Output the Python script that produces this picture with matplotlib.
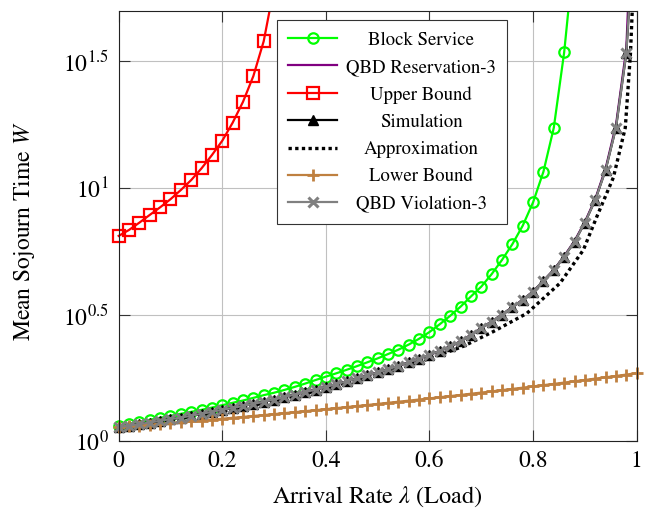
import numpy as np
import matplotlib
matplotlib.use('Agg')
import matplotlib.pyplot as plt
import matplotlib.transforms as mtransforms
from matplotlib.ticker import NullLocator

plt.rcParams['font.family'] = 'STIXGeneral'
plt.rcParams['mathtext.fontset'] = 'stix'

# ---------------------------------------------------------------------------
# Mean sojourn time W vs. arrival rate (load)
# ---------------------------------------------------------------------------
lam_full = np.linspace(0.0, 1.0, 51)          # 0, 0.02, ..., 1.0
lam_block = np.linspace(0.0, 0.88, 45)
lam_upper = np.linspace(0.0, 0.30, 16)

block_service = [1.151, 1.172, 1.194, 1.216, 1.238, 1.261, 1.284, 1.307, 1.331,
                 1.359, 1.389, 1.419, 1.449, 1.484, 1.521, 1.555, 1.595, 1.640,
                 1.690, 1.745, 1.800, 1.855, 1.915, 1.980, 2.050, 2.125, 2.210,
                 2.300, 2.410, 2.540, 2.700, 2.900, 3.130, 3.400, 3.730, 4.080,
                 4.570, 5.200, 6.000, 7.100, 8.780, 11.60, 17.30, 34.30, 88.0]

simulation = [1.137, 1.154, 1.169, 1.186, 1.205, 1.223, 1.241, 1.261, 1.284,
              1.307, 1.331, 1.354, 1.379, 1.405, 1.433, 1.462, 1.495, 1.530,
              1.565, 1.600, 1.640, 1.680, 1.725, 1.770, 1.820, 1.870, 1.925,
              1.985, 2.050, 2.120, 2.195, 2.275, 2.370, 2.480, 2.630, 2.800,
              2.970, 3.160, 3.380, 3.620, 3.900, 4.300, 4.750, 5.360, 6.140,
              7.300, 8.970, 11.78, 17.30, 34.10, 160.0]

qbd_reservation = [1.137, 1.154, 1.169, 1.186, 1.205, 1.223, 1.241, 1.261, 1.284,
                   1.307, 1.331, 1.354, 1.379, 1.405, 1.433, 1.462, 1.495, 1.530,
                   1.565, 1.600, 1.640, 1.680, 1.725, 1.770, 1.820, 1.870, 1.925,
                   1.985, 2.050, 2.120, 2.195, 2.275, 2.370, 2.480, 2.630, 2.800,
                   2.970, 3.160, 3.380, 3.620, 3.900, 4.300, 4.750, 5.380, 6.180,
                   7.350, 9.050, 11.95, 17.70, 35.50, 350.0]

qbd_violation = list(simulation)

upper_bound = [6.47, 6.83, 7.30, 7.83, 8.39, 9.03, 9.82, 10.75, 11.96, 13.49,
               15.37, 18.10, 21.89, 27.66, 38.00, 62.00]

lower_bound = [1.137, 1.146, 1.154, 1.162, 1.171, 1.180, 1.189, 1.198, 1.208,
               1.218, 1.228, 1.238, 1.248, 1.259, 1.269, 1.280, 1.292, 1.303,
               1.315, 1.327, 1.339, 1.352, 1.365, 1.378, 1.391, 1.405, 1.419,
               1.433, 1.447, 1.462, 1.477, 1.493, 1.508, 1.524, 1.541, 1.557,
               1.574, 1.592, 1.610, 1.628, 1.647, 1.666, 1.685, 1.705, 1.726,
               1.746, 1.768, 1.789, 1.811, 1.834, 1.858]

lam_approx = [0.0, 0.1, 0.2, 0.3, 0.4, 0.5, 0.6, 0.665, 0.723, 0.788, 0.852,
              0.897, 0.923, 0.955, 0.978, 0.988, 0.995]
approximation = [1.137, 1.215, 1.315, 1.44, 1.615, 1.835, 2.12, 2.37, 2.71,
                 3.20, 4.21, 5.69, 7.7, 11.0, 17.3, 34.0, 75.0]

x_ticks = [0, 0.2, 0.4, 0.6, 0.8, 1.0]
x_tick_labels = ['0', '0.2', '0.4', '0.6', '0.8', '1']
y_ticks = [10 ** 0, 10 ** 0.5, 10 ** 1, 10 ** 1.5]
y_tick_labels = [r'$10^{0}$', r'$10^{0.5}$', r'$10^{1}$', r'$10^{1.5}$']

# ---------------------------------------------------------------------------
fig = plt.figure(figsize=(6.51, 5.12), dpi=100)
ax = fig.add_axes([0.1823, 0.1381, 0.7957, 0.8410])

lw = 1.6
series = [
    ax.plot(lam_block, block_service, '-o', color='#00ff00', lw=lw, ms=7.5,
            mfc='none', mew=1.6, label='Block Service')[0],
    ax.plot(lam_full, qbd_reservation, '-', color='#800080', lw=lw,
            label='QBD Reservation-3')[0],
    ax.plot(lam_upper, upper_bound, '-s', color='#ff0000', lw=lw, ms=8,
            mfc='none', mew=1.6, label='Upper Bound')[0],
    ax.plot(lam_full, simulation, '-^', color='black', lw=lw, ms=7.5,
            label='Simulation')[0],
    ax.plot(lam_approx, approximation, color='black', lw=2.4,
            ls=(0, (1, 1)), label='Approximation')[0],
    ax.plot(lam_full, lower_bound, '-+', color='#bf8040', lw=lw, ms=9,
            mew=2.0, label='Lower Bound')[0],
    ax.plot(lam_full, qbd_violation, '-x', color='#808080', lw=lw, ms=7,
            mew=2.2, label='QBD Violation-3')[0],
]

# clip lines at the top/bottom but let edge markers hang over the sides
clip = mtransforms.TransformedBbox(mtransforms.Bbox([[-0.03, 0.0], [1.03, 1.0]]),
                                   ax.transAxes)
for ln in series:
    ln.set_clip_box(clip)

ax.set_yscale('log')
ax.set_xlim(0, 1)
ax.set_ylim(1, 10 ** 1.7)
ax.set_xticks(x_ticks)
ax.set_xticklabels(x_tick_labels)
ax.set_yticks(y_ticks)
ax.set_yticklabels(y_tick_labels)
ax.yaxis.set_minor_locator(NullLocator())
ax.tick_params(direction='in', length=8, width=0.8, color='#333333',
               top=True, right=True, labelsize=17, pad=7)
ax.grid(True, color='#c0c0c0', lw=0.8)
ax.set_axisbelow(True)
for sp in ax.spines.values():
    sp.set_color('#222222')
    sp.set_linewidth(0.8)

ax.set_xlabel(r'Arrival Rate $\lambda$ (Load)', fontsize=17.5)
ax.set_ylabel(r'Mean Sojourn Time $W$', fontsize=17)
ax.xaxis.set_label_coords(0.5, -0.129)
ax.xaxis.label.set_va('center')
ax.yaxis.set_label_coords(-0.181, 0.488)
ax.yaxis.label.set_va('center')

leg = ax.legend(loc='upper left', bbox_to_anchor=(0.3056, 0.978), fontsize=13.5,
                frameon=True, fancybox=False, edgecolor='#333333', framealpha=1,
                borderpad=0.6, handlelength=2.6, handletextpad=0.5,
                labelspacing=0.54, borderaxespad=0)
leg.get_frame().set_linewidth(0.8)

# centre the legend labels in their column
fig.canvas.draw()
renderer = fig.canvas.get_renderer()
texts = leg.get_texts()
boxes = [t.get_window_extent(renderer) for t in texts]
xc = (min(b.x0 for b in boxes) + max(b.x1 for b in boxes)) / 2
for t, b in zip(texts, boxes):
    dx = xc - (b.x0 + b.x1) / 2
    t.set_transform(t.get_transform() + mtransforms.Affine2D().translate(dx, 0))

fig.savefig('out.png', dpi=100)
